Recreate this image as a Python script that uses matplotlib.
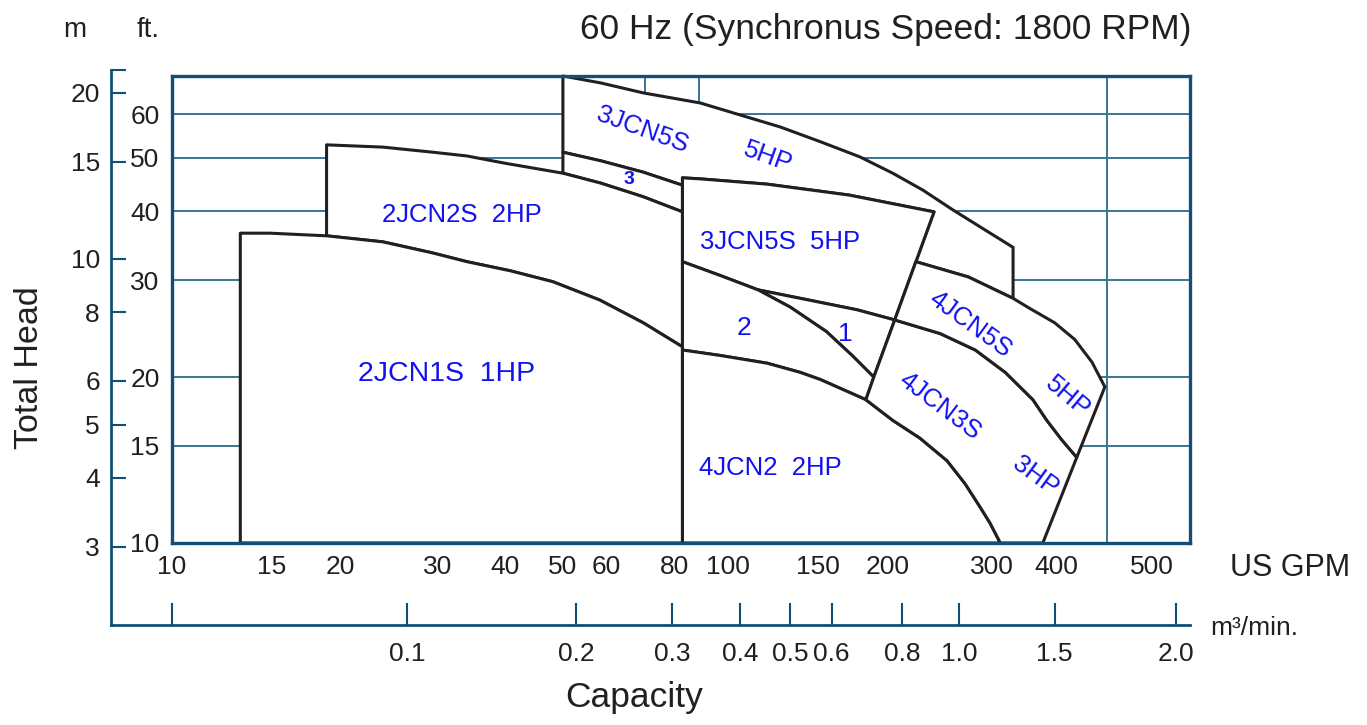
import numpy as np
import matplotlib
matplotlib.use('Agg')
import matplotlib.pyplot as plt
from matplotlib.patches import Polygon
from matplotlib.ticker import NullFormatter, NullLocator

plt.rcParams['font.family'] = ['Liberation Sans', 'DejaVu Sans']

# ---- axis calibration of the original (non uniform log) capacity scale ----
AXIS_GPM = [10, 15, 20, 30, 40, 50, 60, 70, 90, 100, 150, 200, 300, 400, 500]
AXIS_POS = [0, 0.098, 0.165, 0.261, 0.327, 0.384, 0.427, 0.465, 0.518, 0.546,
            0.635, 0.703, 0.805, 0.869, 0.963]

GPM_TICKS = [10, 15, 20, 30, 40, 50, 60, 80, 100, 150, 200, 300, 400, 500]
GPM_GRID = [15, 20, 30, 40, 50, 60, 70, 90, 100, 150, 200, 300, 400, 450, 500]
M3_TICKS = [0.1, 0.2, 0.3, 0.4, 0.5, 0.6, 0.8, 1.0, 1.5, 2.0]
M3_LABELS = ['0.1', '0.2', '0.3', '0.4', '0.5', '0.6', '0.8', '1.0', '1.5', '2.0']
GPM_PER_M3 = 264.17
FT_TICKS = [10, 15, 20, 30, 40, 50, 60]
M_TICKS = [3, 4, 5, 6, 8, 10, 15, 20]
H_LIMITS = (10, 70.4)

# ---- pump curves (capacity US GPM, head ft) ----
HP1_Q = [13.2, 14.9, 18.9, 23.9, 29.4, 34.0, 40.8, 48.1, 58.3, 69.4, 83.2]   # 2JCN1S 1HP
HP1_H = [36.5, 36.5, 36.1, 35.2, 33.6, 32.4, 31.2, 29.8, 27.6, 25.1, 22.7]
J2S_Q = [18.9, 23.9, 29.4, 34.0, 40.0, 50.0, 58.5, 69.4, 83.2]              # 2JCN2S 2HP
J2S_H = [52.8, 52.3, 51.2, 50.4, 48.9, 46.9, 45.0, 42.5, 39.9]
J3_Q = [50.0, 58.5, 69.4, 83.2]                                              # "3"
J3_H = [51.2, 49.4, 47.1, 44.6]
J5_Q = [50.0, 58.5, 69.4, 90.3, 102.7, 126.4, 151.9, 178.3, 204.0, 229.5, 258.3, 330.0]
J5_H = [70.4, 68.4, 65.6, 62.9, 60.3, 56.9, 53.4, 50.2, 46.9, 43.7, 40.2, 34.4]  # 3JCN5S 5HP
MID_Q = [83.2, 90.3, 119.2, 170.4, 239.7]                                    # 3JCN5S 5HP box
MID_H = [46.0, 45.8, 44.8, 42.8, 39.9]
CUT_Q = [239.7, 223.3, 205.6, 188.8, 182.7]                                  # cut-off line
CUT_H = [39.9, 32.4, 25.4, 20.0, 18.2]
C1_Q = [83.2, 97.1, 114.5, 132.2, 155.0, 172.5, 188.8]                       # curve "1"/"2"
C1_H = [32.4, 30.6, 28.8, 26.8, 24.2, 21.9, 20.0]
C2_Q = [114.5, 138.3, 176.1, 205.6, 245.4, 281.7, 318.9, 360.3, 383.0, 404.7, 419.2]
C2_H = [28.8, 27.8, 26.5, 25.4, 24.0, 22.4, 20.4, 18.2, 16.7, 15.4, 14.3]
J45_Q = [223.3, 274.0, 330.0, 354.1, 396.6, 417.3, 434.3, 447.6]            # 4JCN5S 5HP
J45_H = [32.4, 30.4, 27.8, 26.7, 25.1, 23.4, 21.3, 19.2]
J42_Q = [83.2, 97.1, 119.2, 138.3, 151.2, 182.7, 204.0, 226.9, 252.3, 270.8, 287.3, 298.3, 312.0]
J42_H = [22.4, 21.9, 21.2, 20.4, 19.8, 18.2, 16.7, 15.5, 14.1, 12.8, 11.6, 10.87, 10.0]
J43_END_Q = 376.3                                                            # 4JCN3S at min head

LABELS = ['2JCN1S  1HP', '2JCN2S  2HP', '3JCN5S', '5HP', '3', '3JCN5S  5HP', '2', '1',
          '4JCN2  2HP', '4JCN5S', '5HP', '4JCN3S', '3HP']
LABEL_Q = [31.2, 33.3, 69.2, 119.7, 65.6, 126.4, 107.5, 167.6, 120.8, 276.2, 410.5, 245.4, 364.9]
LABEL_H = [20.3, 39.4, 56.2, 50.2, 45.6, 35.2, 24.6, 24.0, 13.7, 24.9, 18.4, 17.7, 13.2]
LABEL_ROT = [0, 0, -20, -20, 0, 0, 0, 0, 0, -36, -40, -37, -36]
LABEL_FS = [20.5, 18.5, 18.5, 18.5, 14, 18.5, 19, 19, 18.5, 18.5, 18.5, 18.5, 18.5]

# ---- scale helpers ----
LQ = np.log10(AXIS_GPM)
PS = np.array(AXIS_POS, float)
S0 = (PS[1] - PS[0]) / (LQ[1] - LQ[0])
S1 = (PS[-1] - PS[-2]) / (LQ[-1] - LQ[-2])


def fwd(q):
    lq = np.log10(np.clip(np.asarray(q, float), 1e-6, None))
    out = np.interp(lq, LQ, PS)
    out = np.where(lq < LQ[0], PS[0] + (lq - LQ[0]) * S0, out)
    out = np.where(lq > LQ[-1], PS[-1] + (lq - LQ[-1]) * S1, out)
    return out


def inv(p):
    p = np.asarray(p, float)
    lq = np.interp(p, PS, LQ)
    lq = np.where(p < PS[0], LQ[0] + (p - PS[0]) / S0, lq)
    lq = np.where(p > PS[-1], LQ[-1] + (p - PS[-1]) / S1, lq)
    return 10 ** lq


def piece(q, h, lo=0, hi=1e9, rev=False):
    pts = sorted([(a, b) for a, b in zip(q, h) if lo - 1e-6 <= a <= hi + 1e-6])
    return pts[::-1] if rev else pts


# ---- layout (pixels of the 1367x725 picture) ----
W, H = 1367, 725
def box(l, t, r, b):
    return [l / W, 1 - b / H, (r - l) / W, (b - t) / H]

INK = '#231f20'
FRAME = '#134f74'
GRID = '#3a7592'
BLUE = '#1212f0'
TICK_FS = 19

fig = plt.figure(figsize=(W / 100, H / 100), dpi=100)

# outer frame with the metric scales
axf = fig.add_axes(box(111, 70, 1190, 625), zorder=0)
axf.patch.set_alpha(0)
axf.set_xscale('function', functions=(fwd, inv))
axf.set_xlim(inv((111 - 172) / 1018), inv(1.0))
k = np.log10(H_LIMITS[1] / H_LIMITS[0]) / (543 - 76)
ft_lo = H_LIMITS[0] * 10 ** (-(625 - 543) * k)
ft_hi = H_LIMITS[0] * 10 ** ((543 - 70) * k)
axf.set_yscale('log')
axf.set_ylim(ft_lo * 0.3048, ft_hi * 0.3048)
axf.set_xticks(np.array(M3_TICKS) * GPM_PER_M3, labels=M3_LABELS)
axf.set_xticks([10], minor=True)
axf.xaxis.set_minor_formatter(NullFormatter())
axf.set_yticks(M_TICKS, labels=[str(m) for m in M_TICKS])
axf.set_yticks([ft_hi * 0.3048], minor=True)
axf.yaxis.set_minor_formatter(NullFormatter())
for s in ['top', 'right']:
    axf.spines[s].set_visible(False)
for s in ['left', 'bottom']:
    axf.spines[s].set_color(FRAME)
    axf.spines[s].set_linewidth(2)
axf.tick_params(axis='x', which='both', direction='in', length=16, width=1.5,
                color=FRAME, labelsize=TICK_FS, labelcolor=INK, pad=12)
axf.tick_params(axis='y', which='both', direction='in', length=11, width=1.5,
                color=FRAME, labelsize=TICK_FS, labelcolor=INK, pad=8)

# main chart
ax = fig.add_axes(box(172, 76, 1190, 543), zorder=1)
ax.set_xscale('function', functions=(fwd, inv))
ax.set_xlim(inv(0.0), inv(1.0))
ax.set_yscale('log')
ax.set_ylim(*H_LIMITS)
ax.set_xticks(GPM_TICKS, labels=[str(g) for g in GPM_TICKS])
ax.set_xticks(GPM_GRID, minor=True)
ax.xaxis.set_minor_formatter(NullFormatter())
ax.set_yticks(FT_TICKS, labels=[str(f) for f in FT_TICKS])
ax.yaxis.set_minor_locator(NullLocator())
ax.tick_params(axis='both', which='both', length=0, labelsize=TICK_FS, labelcolor=INK)
ax.tick_params(axis='x', pad=9)
ax.tick_params(axis='y', pad=9)
ax.set_axisbelow(True)
ax.grid(True, which='minor', axis='x', color=GRID, lw=1.4)
ax.grid(True, which='major', axis='y', color=GRID, lw=1.4)
for s in ax.spines.values():
    s.set_color(FRAME)
    s.set_linewidth(2.4)

regions = [
    piece(J5_Q, J5_H) + piece(J45_Q, J45_H, 223.3, 330, rev=True)
    + piece(CUT_Q, CUT_H, 223.3, 239.7) + piece(MID_Q, MID_H, rev=True)
    + piece(J3_Q, J3_H, rev=True),
    piece(J3_Q, J3_H) + piece(J2S_Q, J2S_H, 50, 83.2, rev=True),
    piece(J2S_Q, J2S_H) + piece(HP1_Q, HP1_H, 18.9, 83.2, rev=True),
    piece(HP1_Q, HP1_H) + [(HP1_Q[-1], 10), (HP1_Q[0], 10)],
    piece(MID_Q, MID_H) + piece(CUT_Q, CUT_H, 205.6, 239.7, rev=True)
    + piece(C2_Q, C2_H, 114.5, 205.6, rev=True) + piece(C1_Q, C1_H, 83.2, 114.5, rev=True),
    piece(C1_Q, C1_H, 114.5, 188.8) + piece(CUT_Q, CUT_H, 188.8, 205.6)
    + piece(C2_Q, C2_H, 114.5, 205.6, rev=True),
    piece(C1_Q, C1_H) + piece(CUT_Q, CUT_H, 182.7, 188.8, rev=True)
    + piece(J42_Q, J42_H, 83.2, 182.7, rev=True),
    piece(J42_Q, J42_H) + [(J42_Q[0], 10)],
    piece(C2_Q, C2_H, 205.6, 420) + [(J43_END_Q, 10)]
    + piece(J42_Q, J42_H, 182.7, 312, rev=True) + piece(CUT_Q, CUT_H, 182.7, 205.6),
    piece(J45_Q, J45_H) + [(C2_Q[-1], C2_H[-1])]
    + piece(C2_Q, C2_H, 205.6, 420, rev=True) + piece(CUT_Q, CUT_H, 205.6, 223.3),
]
for pts in regions:
    ax.add_patch(Polygon(pts, closed=True, facecolor='white', edgecolor=INK,
                         lw=2.2, zorder=2, clip_on=False, joinstyle='round'))

for txt, q, h, r, fs in zip(LABELS, LABEL_Q, LABEL_H, LABEL_ROT, LABEL_FS):
    weight = 'bold' if txt == '3' else 'normal'
    ax.text(q, h, txt, ha='center', va='center', rotation=r, rotation_mode='anchor',
            color=BLUE, fontsize=fs, fontweight=weight, zorder=3)

# titles and axis names
fig.text(1192 / W, 1 - 30 / H, '60 Hz (Synchronus Speed: 1800 RPM)', ha='right',
         va='center', fontsize=25.5, color=INK)
fig.text(75 / W, 1 - 30 / H, 'm', ha='center', va='center', fontsize=20, color=INK)
fig.text(148 / W, 1 - 30 / H, 'ft.', ha='center', va='center', fontsize=20, color=INK)
fig.text(1230 / W, 1 - 568 / H, 'US GPM', ha='left', va='center', fontsize=22, color=INK)
fig.text(1210 / W, 1 - 628 / H, 'm³/min.', ha='left', va='center', fontsize=19, color=INK)
fig.text(634 / W, 1 - 697 / H, 'Capacity', ha='center', va='center', fontsize=25.5, color=INK)
fig.text(30 / W, 1 - 368 / H, 'Total Head', ha='center', va='center', rotation=90,
         fontsize=24.5, color=INK)

fig.savefig('out.png', dpi=100, facecolor='white')
